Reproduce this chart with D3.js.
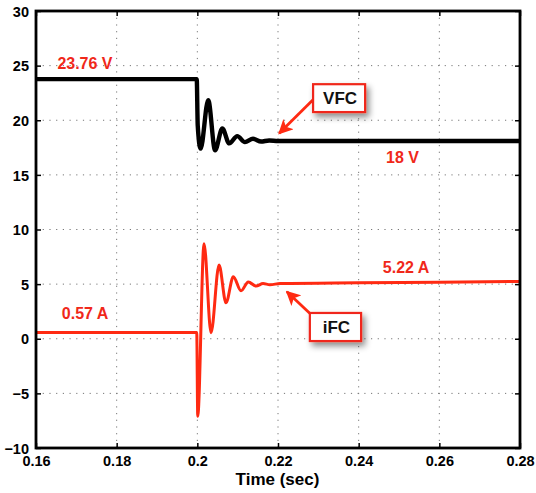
<!DOCTYPE html>
<html><head><meta charset="utf-8">
<script src="https://cdn.jsdelivr.net/npm/d3@7/dist/d3.min.js"></script>
<style>body{margin:0;background:#fff}svg{display:block}</style>
</head><body>
<svg id="chart" width="536" height="493"></svg>
<script>
const xTicks = [0.16, 0.18, 0.2, 0.22, 0.24, 0.26, 0.28];
const xTickLabels = ["0.16", "0.18", "0.2", "0.22", "0.24", "0.26", "0.28"];
const yTicks = [-10, -5, 0, 5, 10, 15, 20, 25, 30];
const yTickLabels = ["\u221210", "\u22125", "0", "5", "10", "15", "20", "25", "30"];

const vfcTime = [0.16, 0.19985, 0.2001, 0.2008, 0.2027, 0.2044, 0.2062, 0.2079, 0.2099, 0.2118, 0.2138, 0.2158, 0.2178, 0.22, 0.28];
const vfcValue = [23.76, 23.76, 19.5, 17.4, 21.84, 17.26, 19.25, 17.88, 18.55, 18.0, 18.3, 18.05, 18.15, 18.1, 18.1];

const ifcTime = [0.16, 0.19985, 0.2001, 0.20166, 0.2034, 0.20538, 0.20711, 0.20892, 0.21083, 0.21264, 0.21455, 0.2163, 0.218, 0.2205, 0.24, 0.26, 0.28];
const ifcValue = [0.57, 0.57, -7.1, 8.7, 0.55, 6.74, 3.29, 5.67, 4.39, 5.2, 4.82, 5.05, 4.95, 5.05, 5.12, 5.18, 5.24];

const annotations = [
  {text: "23.76 V", t: 0.1653, v: 24.69},
  {text: "18 V", t: 0.2468, v: 16.1},
  {text: "0.57 A", t: 0.1664, v: 1.81},
  {text: "5.22 A", t: 0.2460, v: 5.99}
];
const callouts = [
  {text: "VFC", bt: 0.2287, bv: 23.3, bt2: 0.2416, bv2: 20.75, ft: 0.2290, fv: 22.0, tt: 0.2203, tv: 18.8},
  {text: "iFC", bt: 0.2279, bv: 2.36, bt2: 0.2406, bv2: -0.21, ft: 0.2284, fv: 2.15, tt: 0.2222, tv: 4.3}
];

const svg = d3.select("#chart");
const m = {l: 36, r: 16, t: 11, b: 45};
const W = 536, H = 493;
const x = d3.scaleLinear().domain([0.16, 0.28]).range([m.l, W - m.r]);
const y = d3.scaleLinear().domain([-10, 30]).range([H - m.b, m.t]);
const FONT = "Liberation Sans, Arial, Helvetica, sans-serif";

const defs = svg.append("defs");
const f = defs.append("filter").attr("id", "sh").attr("x", "-30%").attr("y", "-30%").attr("width", "170%").attr("height", "170%");
f.append("feDropShadow").attr("dx", 3).attr("dy", 4).attr("stdDeviation", 3).attr("flood-color", "#000").attr("flood-opacity", 0.45);
defs.append("marker").attr("id", "ah").attr("viewBox", "0 0 10 10").attr("refX", 9).attr("refY", 5)
  .attr("markerWidth", 5.2).attr("markerHeight", 5.2).attr("markerUnits", "strokeWidth").attr("orient", "auto")
  .append("path").attr("d", "M0,0 L10,5 L0,10 L2.5,5 Z").attr("fill", "#ff2a12");

// grid
const g = svg.append("g");
g.selectAll(".gx").data(xTicks.slice(1, -1)).join("line")
  .attr("x1", d => x(d)).attr("x2", d => x(d)).attr("y1", y(30)).attr("y2", y(-10))
  .attr("stroke", "#777").attr("stroke-width", 1).attr("stroke-dasharray", "1.2,5.5");
g.selectAll(".gy").data(yTicks.slice(1, -1)).join("line")
  .attr("y1", d => y(d)).attr("y2", d => y(d)).attr("x1", x(0.16)).attr("x2", x(0.28))
  .attr("stroke", "#777").attr("stroke-width", 1).attr("stroke-dasharray", "1.2,5.5");

// axes
const ax = svg.append("g").attr("transform", `translate(0,${y(-10)})`)
  .call(d3.axisBottom(x).tickValues(xTicks).tickFormat((d, i) => xTickLabels[i]).tickSizeInner(-5).tickSizeOuter(0).tickPadding(8));
const ay = svg.append("g").attr("transform", `translate(${x(0.16)},0)`)
  .call(d3.axisLeft(y).tickValues(yTicks).tickFormat((d, i) => yTickLabels[i]).tickSizeInner(-5).tickSizeOuter(0).tickPadding(7));
const axTop = svg.append("g").attr("transform", `translate(0,${y(30)})`)
  .call(d3.axisTop(x).tickValues(xTicks).tickFormat("").tickSizeInner(-5).tickSizeOuter(0));
const ayR = svg.append("g").attr("transform", `translate(${x(0.28)},0)`)
  .call(d3.axisRight(y).tickValues(yTicks).tickFormat("").tickSizeInner(-5).tickSizeOuter(0));
[ax, ay, axTop, ayR].forEach(a => {
  a.select(".domain").remove();
  a.selectAll(".tick line").attr("stroke", "#000").attr("stroke-width", 1.5);
  a.selectAll("text").attr("fill", "#000").attr("font-family", FONT)
    .attr("font-weight", "bold").attr("font-size", 14.5);
});
ay.selectAll("text").attr("dy", "0.36em");

// series
const line = d3.line().x(d => x(d[0])).y(d => y(d[1])).curve(d3.curveMonotoneX);
svg.append("path").datum(vfcTime.map((t, i) => [t, vfcValue[i]])).attr("d", line)
  .attr("fill", "none").attr("stroke", "#000").attr("stroke-width", 4.4).attr("stroke-linejoin", "round");
svg.append("path").datum(ifcTime.map((t, i) => [t, ifcValue[i]])).attr("d", line)
  .attr("fill", "none").attr("stroke", "#ff2a12").attr("stroke-width", 3).attr("stroke-linejoin", "round");

// frame
svg.append("rect").attr("x", x(0.16)).attr("y", y(30)).attr("width", x(0.28) - x(0.16)).attr("height", y(-10) - y(30))
  .attr("fill", "none").attr("stroke", "#000").attr("stroke-width", 2.8);

// annotations
svg.selectAll(".ann").data(annotations).join("text")
  .attr("x", d => x(d.t)).attr("y", d => y(d.v)).text(d => d.text)
  .attr("fill", "#f0281a").attr("font-family", FONT)
  .attr("font-weight", "bold").attr("font-size", 16);

// callouts
callouts.forEach(c => {
  svg.append("line").attr("x1", x(c.ft)).attr("y1", y(c.fv)).attr("x2", x(c.tt)).attr("y2", y(c.tv))
    .attr("stroke", "#ff2a12").attr("stroke-width", 2.8).attr("marker-end", "url(#ah)");
  svg.append("rect").attr("x", x(c.bt)).attr("y", y(c.bv)).attr("width", x(c.bt2) - x(c.bt)).attr("height", y(c.bv2) - y(c.bv))
    .attr("fill", "#fff").attr("stroke", "#f0281a").attr("stroke-width", 2.2).attr("filter", "url(#sh)");
  svg.append("text").attr("x", (x(c.bt) + x(c.bt2)) / 2 + 1).attr("y", (y(c.bv) + y(c.bv2)) / 2 + 6)
    .attr("text-anchor", "middle").text(c.text).attr("fill", "#111")
    .attr("font-family", FONT).attr("font-weight", "bold").attr("font-size", 17);
});

// x label
svg.append("text").attr("x", (x(0.16) + x(0.28)) / 2 - 0.5).attr("y", 485).attr("text-anchor", "middle")
  .text("Time (sec)").attr("fill", "#000").attr("font-family", FONT)
  .attr("font-weight", "bold").attr("font-size", 17);
</script>
</body></html>
